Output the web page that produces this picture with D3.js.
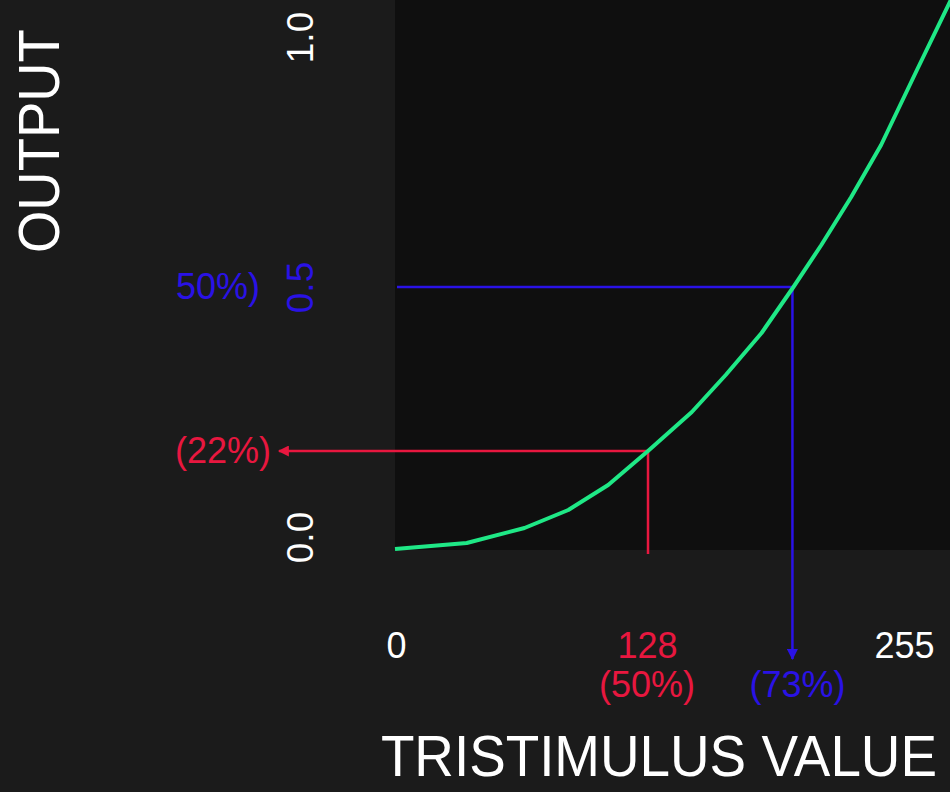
<!DOCTYPE html>
<html>
<head>
<meta charset="utf-8">
<script src="https://cdn.jsdelivr.net/npm/d3@7"></script>
<style>
  html, body { margin: 0; padding: 0; background: #1b1b1b; }
  svg { display: block; }
  text { font-family: "Liberation Sans", Arial, Helvetica, sans-serif; }
</style>
</head>
<body>
<svg id="chart" width="950" height="792"></svg>
<script>
// ---- data ----
const curveX = [0, 36, 65, 87, 107, 127, 149, 166, 184, 200, 214, 229, 244, 262, 279];
const curveY = [-0.024, -0.012, 0.018, 0.054, 0.104, 0.172, 0.25, 0.324, 0.408, 0.5, 0.584, 0.68, 0.784, 0.934, 1.074];
const xTicks = [0, 128, 255];
const xTickLabels = ["0", "128", "255"];
const yTicks = [0, 0.5, 1];
const yTickLabels = ["0.0", "0.5", "1.0"];
const redPoint = { x: 126.5, y: 0.172, xLabel: "(50%)", yLabel: "(22%)" };
const bluePoint = { x: 199, y: 0.5, xLabel: "(73%)", yLabel: "50%)" };
const xTitle = "TRISTIMULUS VALUE";
const yTitle = "OUTPUT";

// ---- colors ----
const bg = "#1b1b1b", plotBg = "#0f0f0f";
const green = "#1fe886", red = "#e8173f", blue = "#2a12e6", white = "#ffffff";

const W = 950, H = 792;
const svg = d3.select("#chart");

const x = d3.scaleLinear().domain([0, 255]).range([396, 904]);
const y = d3.scaleLinear().domain([0, 1]).range([537, 37]);

svg.append("rect").attr("width", W).attr("height", H).attr("fill", bg);
svg.append("rect")
  .attr("x", 395).attr("y", 0)
  .attr("width", W - 395).attr("height", 550)
  .attr("fill", plotBg);

// markers
const defs = svg.append("defs");
function marker(id, color) {
  defs.append("marker")
    .attr("id", id).attr("viewBox", "0 0 10 10")
    .attr("refX", 9).attr("refY", 5)
    .attr("markerUnits", "userSpaceOnUse")
    .attr("markerWidth", 14).attr("markerHeight", 11)
    .attr("orient", "auto")
    .append("path").attr("d", "M0,0 L10,5 L0,10 Z").attr("fill", color);
}
marker("arrRed", red);
marker("arrBlue", blue);

// red guide
svg.append("line")
  .attr("x1", x(redPoint.x)).attr("y1", 554)
  .attr("x2", x(redPoint.x)).attr("y2", y(redPoint.y))
  .attr("stroke", red).attr("stroke-width", 2.5);
svg.append("line")
  .attr("x1", x(redPoint.x)).attr("y1", y(redPoint.y))
  .attr("x2", 279).attr("y2", y(redPoint.y))
  .attr("stroke", red).attr("stroke-width", 2.5)
  .attr("marker-end", "url(#arrRed)");

// blue guide
svg.append("line")
  .attr("x1", 397).attr("y1", y(bluePoint.y))
  .attr("x2", x(bluePoint.x)).attr("y2", y(bluePoint.y))
  .attr("stroke", blue).attr("stroke-width", 2.5);
svg.append("line")
  .attr("x1", x(bluePoint.x)).attr("y1", y(bluePoint.y))
  .attr("x2", x(bluePoint.x)).attr("y2", 659)
  .attr("stroke", blue).attr("stroke-width", 2.5)
  .attr("marker-end", "url(#arrBlue)");

// curve
const pts = curveX.map((v, i) => [v, curveY[i]]);
svg.append("path")
  .datum(pts)
  .attr("fill", "none")
  .attr("stroke", green)
  .attr("stroke-width", 4)
  .attr("stroke-linejoin", "round")
  .attr("d", d3.line().x(d => x(d[0]) - 1).y(d => y(d[1])));

// x axis tick labels
const xAxis = d3.axisBottom(x).tickValues(xTicks).tickSize(0).tickPadding(0)
  .tickFormat((d, i) => xTickLabels[i]);
const gx = svg.append("g").attr("transform", "translate(0,626)").call(xAxis);
gx.select(".domain").remove();
gx.selectAll("text")
  .attr("dy", null).attr("y", 32)
  .attr("font-size", 36)
  .attr("font-family", "Liberation Sans, Arial, sans-serif")
  .attr("fill", (d) => d === 128 ? red : white)
  .attr("dx", (d) => d === 128 ? -4 : 0);

// x sub-labels
svg.append("text").attr("x", x(redPoint.x) - 1).attr("y", 697)
  .attr("text-anchor", "middle").attr("font-size", 36).attr("fill", red)
  .text(redPoint.xLabel);
svg.append("text").attr("x", x(bluePoint.x) + 5).attr("y", 697)
  .attr("text-anchor", "middle").attr("font-size", 36).attr("fill", blue)
  .text(bluePoint.xLabel);

// y axis tick labels (rotated)
const yAxis = d3.axisLeft(y).tickValues(yTicks).tickSize(0).tickPadding(0)
  .tickFormat((d, i) => yTickLabels[i]);
const gy = svg.append("g").attr("transform", "translate(313,0)").call(yAxis);
gy.select(".domain").remove();
gy.selectAll(".tick text")
  .attr("x", null).attr("dy", null)
  .attr("text-anchor", "middle")
  .attr("transform", "rotate(-90)")
  .attr("font-size", 37)
  .attr("font-family", "Liberation Sans, Arial, sans-serif")
  .attr("fill", (d) => d === 0.5 ? blue : white);

// y side labels
svg.append("text").attr("x", 260).attr("y", y(bluePoint.y) + 12)
  .attr("text-anchor", "end").attr("font-size", 36).attr("fill", blue)
  .text(bluePoint.yLabel);
svg.append("text").attr("x", 271).attr("y", y(redPoint.y) + 12)
  .attr("text-anchor", "end").attr("font-size", 36).attr("fill", red)
  .text(redPoint.yLabel);

// titles
svg.append("text")
  .attr("transform", "translate(937,776) scale(0.945,1)")
  .attr("text-anchor", "end")
  .attr("font-size", 58)
  .attr("fill", white)
  .text(xTitle);
svg.append("text")
  .attr("transform", "translate(59,253) rotate(-90) scale(0.955,1)")
  .attr("text-anchor", "start")
  .attr("font-size", 57)
  .attr("fill", white)
  .text(yTitle);
</script>
</body>
</html>
